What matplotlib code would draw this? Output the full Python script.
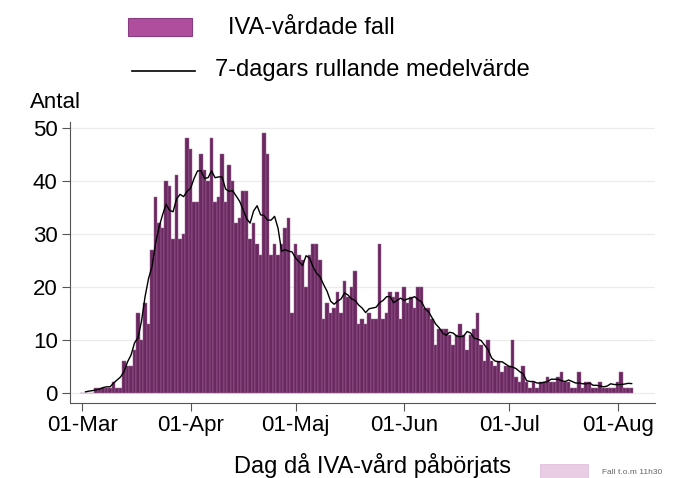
import matplotlib
matplotlib.use("Agg")
import matplotlib.pyplot as plt
from matplotlib.patches import Rectangle
from matplotlib.lines import Line2D
import pandas as pd

plt.rcParams["font.family"] = ["Liberation Sans", "DejaVu Sans"]

# Daily ICU admissions (IVA-vårdade fall) from 1 March
start_date = "2020-03-01"
daily_cases = [
    0, 0, 0, 0, 1, 1, 1, 1, 1, 2,          # Mar 1-10
    1, 1, 6, 5, 5, 8, 15, 10, 17, 13,      # Mar 11-20
    27, 37, 32, 31, 40, 39, 29, 41, 29, 30,  # Mar 21-30
    48, 46, 36, 36, 45, 42, 40, 48, 36, 37,  # Mar 31 - Apr 9
    45, 36, 43, 40, 32, 33, 38, 38, 29, 32,  # Apr 10-19
    28, 26, 49, 45, 26, 28, 26, 28, 31, 33,  # Apr 20-29
    15, 28, 26, 25, 20, 26, 28, 28, 25, 14,  # Apr 30 - May 9
    17, 15, 16, 19, 15, 21, 18, 20, 23, 13,  # May 10-19
    14, 13, 15, 14, 14, 28, 14, 15, 19, 18,  # May 20-29
    19, 14, 20, 17, 18, 16, 20, 20, 16, 16,  # May 30 - Jun 8
    14, 9, 12, 12, 12, 11, 9, 11, 13, 11,    # Jun 9-18
    8, 11, 12, 15, 9, 6, 10, 6, 5, 6,        # Jun 19-28
    4, 5, 5, 10, 3, 2, 5, 2, 1, 2,           # Jun 29 - Jul 8
    1, 2, 2, 3, 2, 2, 3, 4, 2, 2,            # Jul 9-18
    1, 1, 4, 1, 2, 2, 1, 1, 2, 1,            # Jul 19-28
    1, 1, 1, 2, 4, 1, 1, 1,                  # Jul 29 - Aug 5
]

dates = pd.date_range(start_date, periods=len(daily_cases), freq="D")
cases = pd.Series(daily_cases, index=dates, dtype=float)
rolling_mean = cases.rolling(7, center=True, min_periods=1).mean()

tick_dates = pd.to_datetime(["2020-03-01", "2020-04-01", "2020-05-01",
                             "2020-06-01", "2020-07-01", "2020-08-01"])
tick_labels = ["01-Mar", "01-Apr", "01-Maj", "01-Jun", "01-Jul", "01-Aug"]
legend_labels = ["IVA-vårdade fall", "7-dagars rullande medelvärde"]

W, H = 681, 478
fig = plt.figure(figsize=(W / 100, H / 100), dpi=100)
ax = fig.add_axes([0.103, 0.157, 0.859, 0.587])

ax.bar(cases.index, cases.values, width=1.0, color="#6a2961",
       edgecolor="#a06a98", linewidth=0.35, zorder=2)
ax.plot(rolling_mean.index[1:], rolling_mean.values[1:], color="black", lw=1.0,
        zorder=3)

ax.set_xlim(pd.Timestamp("2020-03-01") - pd.Timedelta(days=3.4),
            pd.Timestamp("2020-03-01") + pd.Timedelta(days=163.7))
ax.set_ylim(-1.9, 51)
ax.set_xticks(tick_dates)
ax.set_xticklabels(tick_labels)
ax.set_yticks([0, 10, 20, 30, 40, 50])
ax.tick_params(axis="both", labelsize=16, direction="out", length=6,
               color="#555555", width=0.8)
ax.tick_params(axis="x", pad=3)
ax.tick_params(axis="y", pad=3)
ax.grid(axis="y", color="#ebebeb", lw=0.9, zorder=0)
for s in ["top", "right"]:
    ax.spines[s].set_visible(False)
for s in ["left", "bottom"]:
    ax.spines[s].set_color("#555555")
    ax.spines[s].set_linewidth(0.8)


def fx(px):
    return px / W


def fy(py):
    return 1 - py / H


fig.text(fx(30), fy(102), "Antal", fontsize=16, va="center", ha="left")
fig.text(fx(372), fy(465), "Dag då IVA-vård påbörjats", fontsize=17,
         va="center", ha="center")

# legend, laid out as in the original (keys on the left, labels after)
fig.patches.append(Rectangle((fx(128), fy(36)), fx(64), 18 / H,
                             transform=fig.transFigure, facecolor="#b04e9e",
                             edgecolor="#8a3c80", lw=0.8))
fig.text(fx(228), fy(28), legend_labels[0], fontsize=17, va="center", ha="left")
fig.lines.append(Line2D([fx(132), fx(195)], [fy(71), fy(71)],
                        transform=fig.transFigure, color="black", lw=1.2))
fig.text(fx(215), fy(70), legend_labels[1], fontsize=17, va="center", ha="left")

# small note box in the bottom right corner
fig.patches.append(Rectangle((fx(540), 0.0), fx(48), 14 / H,
                             transform=fig.transFigure, facecolor="#e9cde4",
                             edgecolor="#dcb8d6", lw=0.5))
fig.text(fx(602), fy(472), "Fall t.o.m 11h30", fontsize=6,
         color="#666666", va="center", ha="left")

fig.savefig("out.png", dpi=100)
